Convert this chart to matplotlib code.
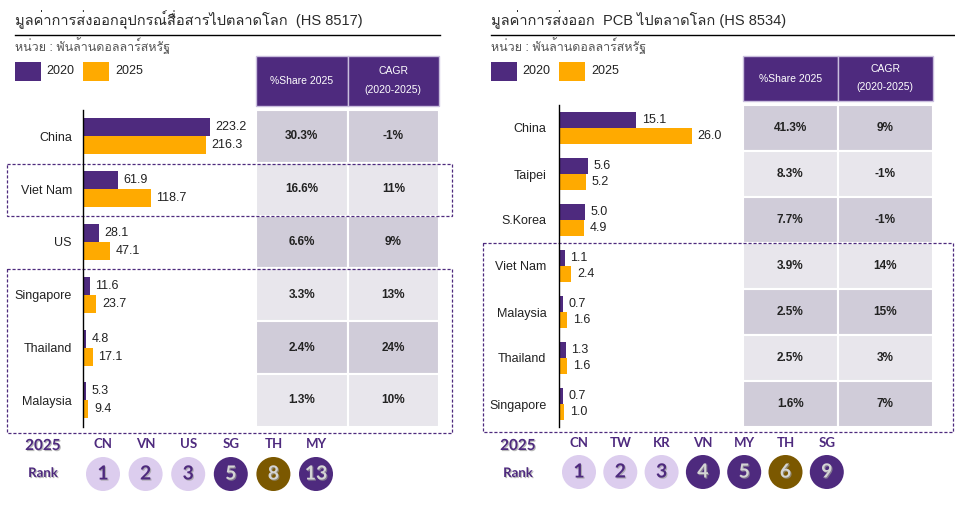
import matplotlib
matplotlib.use('Agg')
import matplotlib.pyplot as plt
import matplotlib.patheffects as pe
from matplotlib import font_manager
from matplotlib.ft2font import FT2Font
from matplotlib.patches import Rectangle, Circle
import numpy as np

# ---- data: communication equipment (HS 8517)
comm_countries = ['China', 'Viet Nam', 'US', 'Singapore', 'Thailand', 'Malaysia']
comm_2020 = [223.2, 61.9, 28.1, 11.6, 4.8, 5.3]
comm_2025 = [216.3, 118.7, 47.1, 23.7, 17.1, 9.4]
comm_share = ['30.3%', '16.6%', '6.6%', '3.3%', '2.4%', '1.3%']
comm_cagr = ['-1%', '11%', '9%', '13%', '24%', '10%']
comm_codes = ['CN', 'VN', 'US', 'SG', 'TH', 'MY']
comm_ranks = [1, 2, 3, 5, 8, 13]

# ---- data: PCB (HS 8534)
pcb_countries = ['China', 'Taipei', 'S.Korea', 'Viet Nam', 'Malaysia', 'Thailand', 'Singapore']
pcb_2020 = [15.1, 5.6, 5.0, 1.1, 0.7, 1.3, 0.7]
pcb_2025 = [26.0, 5.2, 4.9, 2.4, 1.6, 1.6, 1.0]
pcb_share = ['41.3%', '8.3%', '7.7%', '3.9%', '2.5%', '2.5%', '1.6%']
pcb_cagr = ['9%', '-1%', '-1%', '14%', '15%', '3%', '7%']
pcb_codes = ['CN', 'TW', 'KR', 'VN', 'MY', 'TH', 'SG']
pcb_ranks = [1, 2, 3, 4, 5, 6, 9]

PURPLE = '#4E2A7E'
ORANGE = '#FFAA00'
DARK_CELL = '#D0CCD9'
LIGHT_CELL = '#E8E6EC'
LAVENDER = '#DCCDEE'
BROWN = '#7B5800'


def find_thai():
    for f in font_manager.fontManager.ttflist:
        try:
            if 0x0E01 in FT2Font(f.fname).get_charmap():
                return f.name
        except Exception:
            pass
    return None


thai = find_thai()
plt.rcParams['font.family'] = ['Liberation Sans'] + ([thai] if thai else []) + ['DejaVu Sans']

W, H = 955, 515
fig = plt.figure(figsize=(W / 100, H / 100), dpi=100)
ov = fig.add_axes([0, 0, 1, 1], zorder=0)
ov.set_xlim(0, W)
ov.set_ylim(H, 0)
ov.axis('off')

shadow = [pe.SimplePatchShadow(offset=(0.8, -0.8), shadow_rgbFace='#9a9a9a', alpha=0.7), pe.Normal()]


def panel(x0, line_end, title, countries, v20, v25, share, cagr, codes, ranks,
          bar_left, px_unit, top, row_h, bar_h, pad, col1, col2, head_bot, boxes,
          rank_x, circ_x0, circ_dx, circ_y, code_y):
    # title, rule and unit
    ov.text(x0, 20, title, fontsize=10.5, color='#2a2a2a', va='center')
    ov.plot([x0, line_end], [35, 35], color='black', lw=1)
    ov.text(x0, 46, 'หน่วย : พันล้านดอลลาร์สหรัฐ', fontsize=9, color='#555555', va='center')
    # legend
    ov.add_patch(Rectangle((x0, 62), 26, 19, fc=PURPLE, ec='none'))
    ov.text(x0 + 31, 71.5, '2020', fontsize=9, va='center', color='#222222')
    ov.add_patch(Rectangle((x0 + 68, 62), 26, 19, fc=ORANGE, ec='none'))
    ov.text(x0 + 100, 71.5, '2025', fontsize=9, va='center', color='#222222')

    # bars
    n = len(countries)
    bot = top + n * row_h
    bar_w = 170
    ax = fig.add_axes([bar_left / W, 1 - bot / H, bar_w / W, (bot - top) / H], zorder=2)
    ax.patch.set_alpha(0)
    ax.set_xlim(0, bar_w / px_unit)
    ax.set_ylim(n - 0.5, -0.5)
    y = np.arange(n)
    h = bar_h / row_h
    ax.barh(y - h / 2, v20, height=h, color=PURPLE)
    ax.barh(y + h / 2, v25, height=h, color=ORANGE)
    for i in range(n):
        ax.annotate(f'{v20[i]:.1f}', (v20[i], y[i] - h / 2), xytext=(4, 0),
                    textcoords='offset points', va='center', fontsize=9, color='#222222')
        ax.annotate(f'{v25[i]:.1f}', (v25[i], y[i] + h / 2), xytext=(4, 0),
                    textcoords='offset points', va='center', fontsize=9, color='#222222')
    ax.set_yticks(y, countries)
    ax.set_xticks([])
    ax.tick_params(axis='y', length=0, pad=pad, labelsize=9, labelcolor='#222222')
    for s in ['top', 'right', 'bottom']:
        ax.spines[s].set_visible(False)
    ax.spines['left'].set_color('black')
    ax.spines['left'].set_linewidth(1)

    # table header
    for (a, b) in [col1, col2]:
        ov.add_patch(Rectangle((a, 56), b - a, head_bot - 56, fc=PURPLE, ec='#C9BEDD', lw=1))
    hc = (56 + head_bot) / 2
    ov.text(sum(col1) / 2, hc, '%Share 2025', color='white', fontsize=7.5, ha='center', va='center')
    ov.text(sum(col2) / 2, hc - 10, 'CAGR', color='white', fontsize=7.5, ha='center', va='center')
    ov.text(sum(col2) / 2, hc + 9, '(2020-2025)', color='white', fontsize=7.5, ha='center', va='center')
    # table body
    for i in range(n):
        yt = top + i * row_h
        fc = DARK_CELL if i % 2 == 0 else LIGHT_CELL
        for (a, b), txt in [(col1, share[i]), (col2, cagr[i])]:
            ov.add_patch(Rectangle((a, yt), b - a, row_h, fc=fc, ec='white', lw=1.5))
            ov.text((a + b) / 2, yt + row_h / 2, txt, fontsize=8.5, fontweight='bold',
                    color='#222222', ha='center', va='center')

    # dashed highlight boxes
    for (bx0, by0, bx1, by1) in boxes:
        ov.add_patch(Rectangle((bx0, by0), bx1 - bx0, by1 - by0, fill=False, ec=PURPLE,
                               lw=0.9, ls=(0, (2.5, 1.5)), zorder=5))

    # rank row
    ov.text(rank_x, 446, '2025', fontsize=11, fontweight='bold', family='Lato', color=PURPLE,
            ha='center', va='center', path_effects=shadow)
    ov.text(rank_x, 473, 'Rank', fontsize=9.5, fontweight='bold', family='Lato', color=PURPLE,
            ha='center', va='center', path_effects=shadow)
    for i, (c, r) in enumerate(zip(codes, ranks)):
        cx = circ_x0 + i * circ_dx
        if r <= 3:
            fc, tc = LAVENDER, PURPLE
        elif c == 'TH':
            fc, tc = BROWN, '#D4D4D4'
        else:
            fc, tc = PURPLE, '#D4D4D4'
        ov.text(cx, code_y, c, fontsize=9.5, fontweight='bold', family='Lato', color=PURPLE,
                ha='center', va='center')
        ov.add_patch(Circle((cx, circ_y), 17, fc=fc, ec='none'))
        ov.text(cx, circ_y, str(r), fontsize=14, fontweight='bold', family='Lato', color=tc,
                ha='center', va='center', path_effects=shadow)


panel(15, 440, 'มูลค่าการส่งออกอุปกรณ์สื่อสารไปตลาดโลก  (HS 8517)',
      comm_countries, comm_2020, comm_2025, comm_share, comm_cagr, comm_codes, comm_ranks,
      bar_left=83, px_unit=127 / 223.2, top=110, row_h=52.8, bar_h=18, pad=8,
      col1=(256, 347.5), col2=(347.5, 439), head_bot=106,
      boxes=[(7, 164, 452, 216), (7, 269, 452, 433)],
      rank_x=43, circ_x0=103, circ_dx=42.6, circ_y=474, code_y=444)

panel(491, 955, 'มูลค่าการส่งออก  PCB ไปตลาดโลก (HS 8534)',
      pcb_countries, pcb_2020, pcb_2025, pcb_share, pcb_cagr, pcb_codes, pcb_ranks,
      bar_left=559, px_unit=133 / 26.0, top=105, row_h=46, bar_h=16, pad=9,
      col1=(743, 837.5), col2=(837.5, 933), head_bot=101,
      boxes=[(483, 243, 953, 432)],
      rank_x=518, circ_x0=579, circ_dx=41.3, circ_y=472, code_y=443)

fig.savefig('out.png', dpi=100)
